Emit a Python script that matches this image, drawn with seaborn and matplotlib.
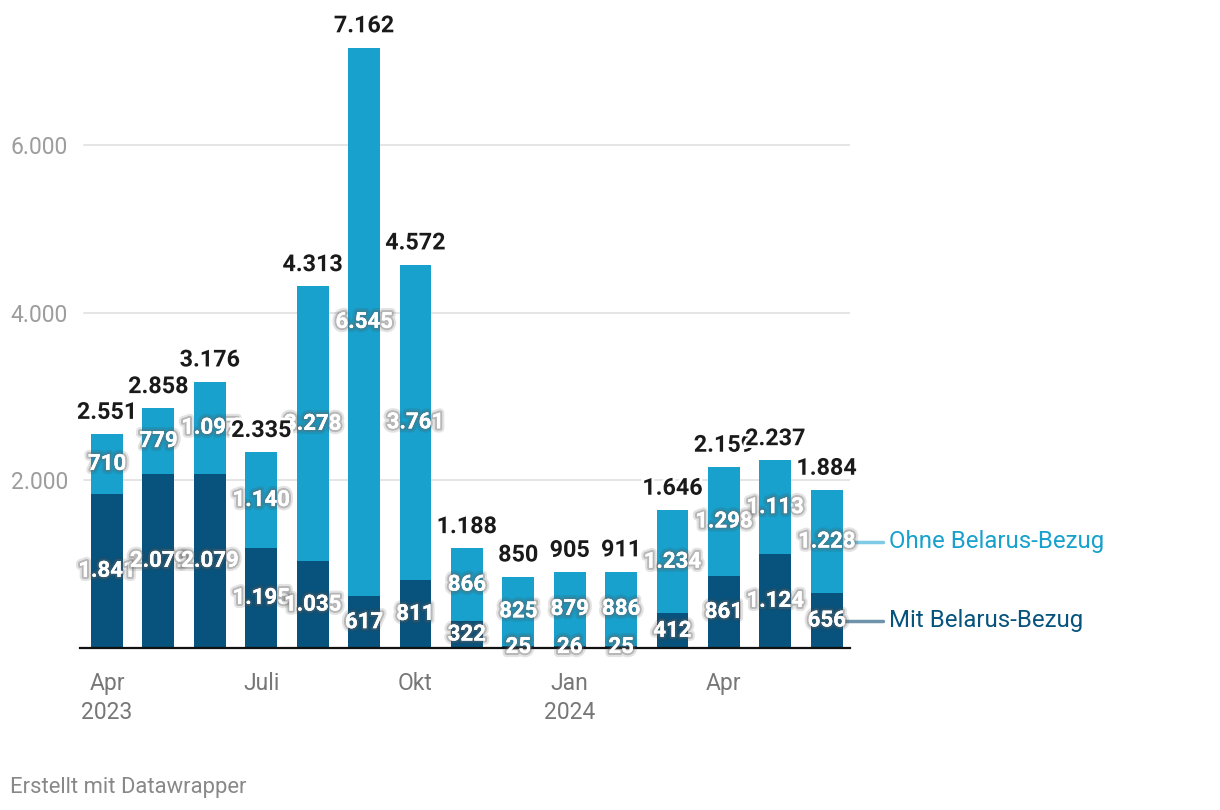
import matplotlib
matplotlib.use("Agg")
import matplotlib.pyplot as plt
import matplotlib.patheffects as pe
import seaborn as sns
import pandas as pd

# --------------------
# data
# --------------------
months = ["Apr 23", "Mai 23", "Jun 23", "Jul 23", "Aug 23", "Sep 23", "Okt 23",
          "Nov 23", "Dez 23", "Jan 24", "Feb 24", "Mär 24", "Apr 24", "Mai 24", "Jun 24"]
mit = [1841, 2079, 2079, 1195, 1035, 617, 811, 322, 25, 26, 25, 412, 861, 1124, 656]
ohne = [710, 779, 1097, 1140, 3278, 6545, 3761, 866, 825, 879, 886, 1234, 1298, 1113, 1228]
tick_pos = [0, 3, 6, 9, 12]
tick_labels = ["Apr\n2023", "Juli", "Okt", "Jan\n2024", "Apr"]
y_ticks = [2000, 4000, 6000]

df = pd.DataFrame({"month": months, "mit": mit, "ohne": ohne})
df["total"] = df["mit"] + df["ohne"]

c_ohne = "#18a1cd"
c_mit = "#07537d"

def de(v):
    return f"{v:,}".replace(",", ".")

# --------------------
# plot
# --------------------
sns.set_style("white")
plt.rcParams["font.family"] = ["Roboto", "DejaVu Sans"]

fig = plt.figure(figsize=(12.2, 8.1), dpi=100)
ax = fig.add_axes([0.0656, 0.2, 0.631, 0.7452])

sns.barplot(data=df, x="month", y="total", color=c_ohne, width=0.62,
            saturation=1, order=months, ax=ax, zorder=2, linewidth=0)
sns.barplot(data=df, x="month", y="mit", color=c_mit, width=0.62,
            saturation=1, order=months, ax=ax, zorder=2, linewidth=0)

ax.set_xlim(-0.525, 14.45)
ax.set_ylim(0, 7200)
ax.set_xlabel("")
ax.set_ylabel("")

for y in y_ticks:
    ax.axhline(y, xmin=0.005, color="#e3e3e3", lw=1.3, zorder=0)

ax.set_yticks(y_ticks)
ax.set_yticklabels([de(v) for v in y_ticks], ha="left")
ax.tick_params(axis="y", length=0, pad=50, labelsize=16.5, labelcolor="#9d9d9d")
ax.set_xticks(tick_pos)
ax.set_xticklabels(tick_labels, linespacing=1.35)
ax.tick_params(axis="x", length=6, width=1.5, color="#222", pad=11,
               labelsize=16.5, labelcolor="#777")

for s in ["top", "right", "left"]:
    ax.spines[s].set_visible(False)
ax.spines["bottom"].set_linewidth(1.6)
ax.spines["bottom"].set_color("#111")
ax.spines["bottom"].set_zorder(3)

glow = [pe.withStroke(linewidth=6, foreground="#444", alpha=0.15),
        pe.withStroke(linewidth=3, foreground="#666", alpha=0.35),
        pe.Normal()]
halo = [pe.withStroke(linewidth=4, foreground="white")]

# segment labels
for i, row in df.iterrows():
    ax.text(i, row["mit"] / 2, de(row["mit"]), ha="center", va="center",
            color="white", fontsize=16, fontweight="bold",
            path_effects=glow, zorder=4, clip_on=False)
    ax.text(i, row["mit"] + row["ohne"] / 2, de(row["ohne"]), ha="center", va="center",
            color="white", fontsize=16, fontweight="bold",
            path_effects=glow, zorder=4)

# totals
for i, row in df.iterrows():
    ax.annotate(de(row["total"]), (i, row["total"]), xytext=(0, 11),
                textcoords="offset points", ha="center", va="baseline",
                fontsize=16.8, fontweight="bold", color="#1a1a1a",
                path_effects=halo, zorder=5, annotation_clip=False)

# direct labels for series
last = len(df) - 1
y_ohne = df["mit"].iloc[last] + df["ohne"].iloc[last] / 2
y_mit = df["mit"].iloc[last] / 2
ax.plot([14.36, 15.1], [y_ohne, y_ohne], color="#7fcbe6", lw=2.5, clip_on=False, zorder=1)
ax.plot([14.36, 15.1], [y_mit, y_mit], color="#6f93aa", lw=2.5, clip_on=False, zorder=1)
ax.text(15.22, y_ohne, "Ohne Belarus-Bezug", color=c_ohne, fontsize=17.3, va="center")
ax.text(15.22, y_mit, "Mit Belarus-Bezug", color=c_mit, fontsize=17.3, va="center")

fig.text(10 / 1220, 1 - 787 / 810, "Erstellt mit Datawrapper", color="#888",
         fontsize=15.8, va="center", ha="left")

fig.savefig("out.png", dpi=100)
